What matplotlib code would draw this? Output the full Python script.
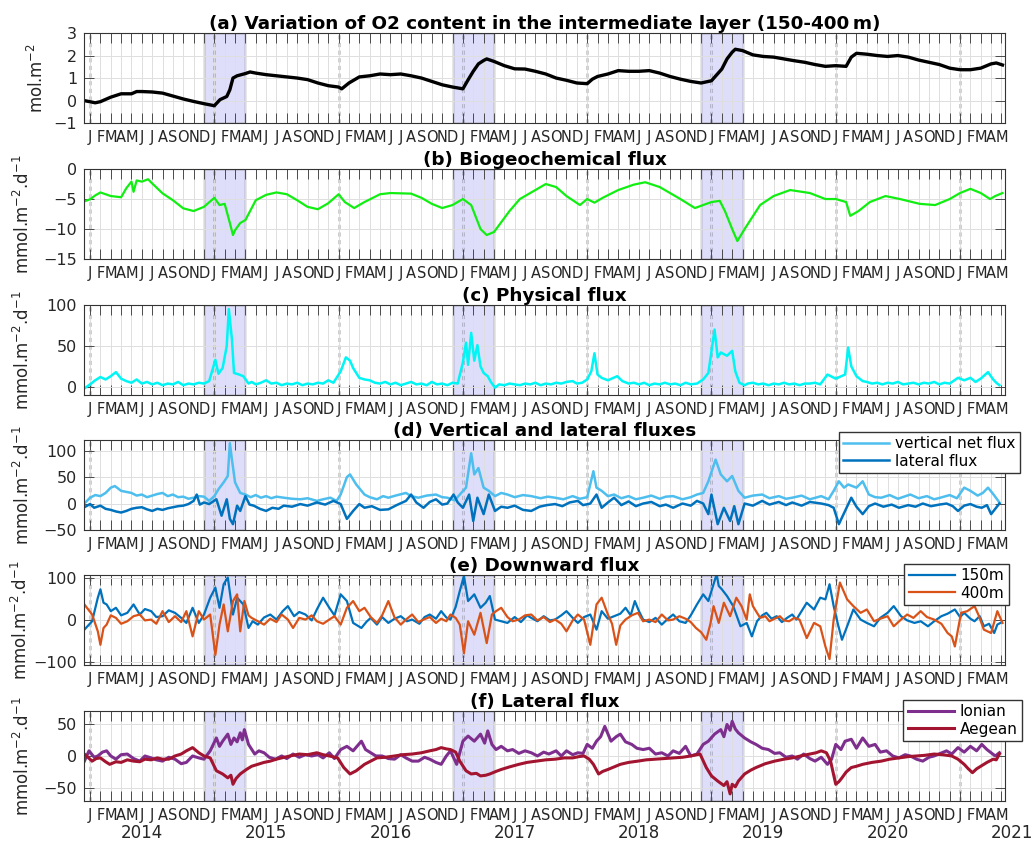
import matplotlib
matplotlib.use("Agg")
import matplotlib.pyplot as plt

plt.rcParams['font.family'] = ['DejaVu Sans']

# time axis: month index, 0 = 1 Jan 2014 ... 88 = 1 May 2021
month_letters = ['J', 'F', 'M', 'A', 'M', 'J', 'J', 'A', 'S', 'O', 'N', 'D']
n_months = 89
years = [2014, 2015, 2016, 2017, 2018, 2019, 2020, 2021]
winters = [(11, 15), (35, 39), (59, 63)]   # 1 Dec -> 1 Apr

# (a) O2 content, mol.m-2
o2_content = [(-0.58, 0.0), (0.5, -0.1), (1, -0.05), (2, 0.15), (3, 0.3), (4, 0.3), (4.5, 0.4), (5, 0.4),
              (6, 0.38), (7, 0.33), (8, 0.2), (9, 0.07), (10, -0.04), (11, -0.14), (12, -0.23),
              (12.55, 0.04), (13.2, 0.18), (13.5, 0.48), (13.8, 1.0), (14.2, 1.1), (15, 1.2), (15.45, 1.27),
              (16, 1.22), (17, 1.15), (18, 1.1), (19, 1.05), (20, 1.0), (21, 0.93), (22, 0.78), (23, 0.66),
              (24, 0.6), (24.3, 0.52), (25, 0.78), (26, 1.05), (27, 1.1), (28, 1.18), (29, 1.15), (30, 1.18),
              (31, 1.1), (32, 1.0), (33, 0.85), (34, 0.7), (35, 0.6), (36, 0.52), (36.5, 0.92), (37, 1.3),
              (37.5, 1.63), (38, 1.78), (38.3, 1.85), (39, 1.74), (40, 1.55), (41, 1.41), (42, 1.4), (43, 1.3),
              (44, 1.18), (45, 1.0), (46, 0.9), (47, 0.78), (48, 0.75), (48.5, 0.95), (49, 1.07), (50, 1.18),
              (51, 1.33), (52, 1.3), (53, 1.3), (54, 1.33), (55, 1.22), (56, 1.07), (57, 0.95), (58, 0.85),
              (59, 0.78), (60, 0.88), (61, 1.4), (61.5, 1.85), (62, 2.15), (62.3, 2.28), (63, 2.22), (64, 2.03),
              (65, 1.96), (66, 1.93), (67, 1.85), (68, 1.77), (69, 1.7), (70, 1.6), (71, 1.52), (72, 1.55),
              (73, 1.52), (73.5, 1.93), (74, 2.1), (75, 2.06), (76, 2.0), (77, 1.96), (78, 2.0), (79, 1.93),
              (80, 1.8), (81, 1.7), (82, 1.6), (83, 1.44), (84, 1.37), (85, 1.37), (86, 1.44), (87, 1.63),
              (87.5, 1.67), (88.1, 1.58)]

# (b) biogeochemical flux, mmol.m-2.d-1
bio_flux = [(-0.58, -5.4), (0, -5.05), (0.5, -4.4), (1, -3.9), (2, -4.5), (3, -4.7), (3.5, -3.2), (4, -2.1),
            (4.2, -3.8), (4.5, -1.9), (5, -2.1), (5.6, -1.7), (6, -2.4), (7, -4.05), (8, -5.2), (9, -6.55),
            (10, -7.0), (11, -6.3), (12, -4.8), (12.5, -6.0), (13, -5.8), (13.5, -9.0), (13.8, -11.0),
            (14, -10.2), (14.5, -9.0), (15, -8.5), (16, -5.2), (17, -4.3), (18, -3.9), (19, -4.2), (20, -5.2),
            (21, -6.3), (22, -6.7), (23, -5.7), (24, -4.2), (24.6, -5.5), (25.5, -6.5), (26.5, -5.5),
            (28, -4.2), (29, -4.0), (31, -4.1), (32, -4.8), (33, -5.8), (34, -6.5), (35, -6.0), (36, -5.0),
            (36.8, -6.0), (37.7, -10.0), (38.3, -11.0), (39, -10.5), (40.5, -7.0), (41.5, -5.0), (42.5, -4.0),
            (44, -2.5), (45, -3.0), (46, -4.5), (47.3, -6.0), (48, -5.0), (48.7, -5.6), (49.5, -4.8),
            (51, -3.5), (52.5, -2.6), (53.6, -2.2), (55, -3.0), (57, -5.0), (58.4, -6.5), (60, -5.5),
            (60.8, -5.3), (61.3, -7.0), (62, -10.0), (62.5, -12.0), (63.2, -10.0), (64.7, -6.0), (66, -4.5),
            (67.6, -3.5), (69.5, -4.0), (71, -5.0), (72, -5.0), (73, -5.5), (73.4, -7.8), (74.2, -7.0),
            (75.3, -5.5), (76.8, -4.5), (78.2, -5.0), (80.1, -5.8), (81.6, -6.0), (83, -5.0), (84, -4.0),
            (85, -3.3), (86, -4.0), (86.9, -5.0), (87.4, -4.5), (88.1, -4.0)]

# (c) physical flux
phys_flux = [(-0.55, -2), (0, 3), (0.5, 8), (1, 12), (1.5, 9), (2, 13), (2.5, 18), (3, 10), (3.5, 7), (4, 5),
             (4.5, 9), (5, 4), (5.5, 6), (6, 3), (6.5, 5), (7, 2), (7.5, 4), (8, 3), (8.5, 6), (9, 2), (9.5, 4),
             (10, 3), (10.5, 5), (11, 4), (11.5, 7), (12.1, 33), (12.4, 16), (12.8, 23), (13.2, 50), (13.4, 95),
             (13.7, 58), (13.9, 17), (14.4, 15), (14.8, 13), (15.3, 4), (15.6, 6), (16, 3), (16.5, 5), (17, 8),
             (17.5, 4), (18, 5), (18.5, 2), (19, 4), (19.5, 3), (20, 5), (20.5, 2), (21, 4), (21.5, 3), (22, 5),
             (22.5, 4), (23, 8), (23.5, 5), (24.2, 19), (24.7, 36), (25.1, 32), (25.4, 23), (26, 11), (26.5, 9),
             (27, 8), (27.5, 5), (28, 4), (28.5, 6), (29, 3), (29.5, 5), (30, 2), (30.5, 4), (31, 6), (31.5, 3),
             (32, 4), (32.5, 2), (33, 6), (33.5, 3), (34, 4), (34.5, 2), (35, 5), (35.5, 4), (36, 30), (36.3, 54),
             (36.5, 27), (36.8, 66), (37.1, 32), (37.4, 51), (37.7, 25), (38, 17), (38.4, 13), (38.7, 6),
             (39.1, -1), (39.5, 3), (40, 2), (40.5, 4), (41, 3), (41.5, 2), (42, 4), (42.5, 3), (43, 5), (43.5, 2),
             (44, 4), (44.5, 3), (45, 5), (45.5, 4), (46, 6), (46.6, 7), (47, 4), (47.5, 5), (48, 9), (48.4, 19),
             (48.7, 41), (49, 15), (49.4, 11), (50, 8), (50.9, 13), (51.4, 7), (52, 4), (52.5, 5), (53, 3),
             (53.5, 5), (54, 2), (54.5, 4), (55, 3), (55.5, 5), (56, 3), (56.5, 4), (57, 2), (57.5, 5), (58, 3),
             (58.6, 4), (59.2, 9), (59.7, 17), (60.3, 70), (60.6, 36), (60.9, 42), (61.5, 38), (62, 44),
             (62.3, 19), (62.7, 5), (63.2, 2), (63.5, 4), (64, 5), (64.5, 3), (65, 4), (65.5, 2), (66, 4),
             (66.5, 3), (67, 5), (67.5, 3), (68, 4), (68.5, 2), (69, 4), (69.5, 4), (70, 5), (70.5, 3), (71.2, 15),
             (72, 10), (72.9, 15), (73.2, 48), (73.5, 25), (74, 13), (74.6, 7), (75, 6), (75.5, 4), (76, 5),
             (76.5, 3), (77, 5), (77.5, 4), (78, 6), (78.5, 3), (79, 4), (79.5, 5), (80, 3), (80.5, 5), (81, 4),
             (81.5, 6), (82, 3), (82.5, 5), (83, 4), (83.8, 11), (84.4, 8), (85, 11), (85.5, 6), (86, 10),
             (86.7, 18), (87.2, 9), (87.5, 5), (87.8, 2)]

# (d) vertical net flux and lateral flux
vertical_net = [(-0.55, 0), (0, 11), (0.5, 16), (1, 14), (1.5, 20), (2, 30), (2.4, 33), (3, 24), (3.5, 22),
                (4, 20), (4.5, 15), (5, 17), (5.5, 12), (6, 15), (6.5, 18), (7, 20), (7.5, 14), (8, 17),
                (8.5, 12), (9, 13), (9.5, 9), (10, 11), (10.5, 14), (11, 13), (11.5, 5), (12, 14), (12.4, 27),
                (12.9, 40), (13.3, 52), (13.5, 114), (13.7, 83), (14, 40), (14.5, 20), (15, 17), (15.5, 12),
                (16, 16), (16.5, 11), (17, 14), (17.5, 10), (18, 13), (18.7, 11), (19.5, 9), (20.3, 8), (21, 10),
                (21.9, 5), (22.5, 8), (23.2, 11), (23.8, 5), (24.2, 17), (24.8, 50), (25.1, 55), (25.7, 36),
                (26.5, 17), (27, 12), (27.7, 8), (28.3, 14), (28.8, 11), (29.5, 15), (30.5, 20), (31, 14),
                (31.7, 11), (32.5, 15), (33.4, 17), (34, 12), (34.5, 11), (35.2, 6), (35.7, 17), (36.3, 30),
                (36.8, 95), (37.1, 55), (37.5, 67), (38, 30), (38.5, 24), (39.1, 14), (39.7, 20), (40.3, 17),
                (41, 12), (41.8, 16), (42.6, 14), (43.5, 10), (44.2, 13), (44.9, 11), (45.7, 8), (46.6, 14),
                (47.3, 9), (48, 12), (48.6, 61), (48.9, 30), (49.4, 24), (50, 14), (50.6, 17), (51.3, 10),
                (52, 14), (52.7, 8), (53.4, 11), (54.2, 15), (55, 9), (55.6, 13), (56.3, 14), (57.2, 8), (58, 12),
                (58.6, 17), (59.2, 20), (59.7, 42), (60.4, 83), (60.9, 55), (61.5, 42), (62, 52), (62.6, 24),
                (63.2, 11), (64, 15), (64.9, 17), (65.6, 10), (66.5, 14), (67.2, 9), (67.8, 11), (68.7, 15),
                (69.5, 8), (70.6, 14), (71.3, 8), (71.8, 24), (72.3, 42), (72.8, 30), (73.2, 36), (74, 30),
                (74.6, 42), (75.2, 17), (75.8, 12), (76.4, 11), (77.2, 16), (78, 9), (79.2, 17), (80, 10),
                (80.8, 14), (81.5, 8), (82.1, 11), (83, 16), (83.7, 10), (84.4, 30), (85, 24), (85.7, 15),
                (86.2, 20), (86.7, 30), (87.2, 18), (87.5, 10), (87.8, 2)]

lateral_net = [(-0.55, -7), (0, -1), (0.4, -8), (1, -4), (1.5, -10), (2, -12), (2.5, -15), (3, -17), (3.5, -14),
               (4, -10), (4.5, -8), (5, -7), (5.5, -11), (6, -14), (6.5, -10), (7, -12), (7.5, -9), (8, -7),
               (8.5, -5), (9, -4), (9.5, -1), (10, 5), (10.3, 17), (10.6, -2), (11, 2), (11.5, -1), (12.2, 8),
               (12.7, -23), (13.2, 8), (13.5, -29), (13.8, -39), (14.2, -4), (14.5, -14), (15, 14), (15.4, -2),
               (15.8, -4), (16.4, -10), (17, -14), (17.6, -8), (18.2, -10), (18.7, -4), (19.5, -6), (20.3, -1),
               (21, -4), (21.9, 2), (22.7, -2), (23.5, 5), (24.2, -1), (24.8, -29), (25.4, -14), (26, -1),
               (26.5, -8), (27.2, -5), (28, -12), (28.8, -11), (29.6, -3), (30.5, 5), (31, 17), (31.5, 2),
               (32.2, -8), (32.8, 3), (33.4, 8), (34, -2), (34.5, 0), (35.1, 17), (35.5, 2), (36, -8), (36.6, 17),
               (37, -33), (37.4, 11), (38, -20), (38.5, 17), (39.1, -14), (39.7, -6), (40.3, -8), (41, -4),
               (41.8, -12), (42.6, -14), (43.4, -6), (44.1, -3), (44.9, -1), (45.6, -5), (46.3, 2), (47.1, 5),
               (47.6, -3), (48.3, 0), (48.9, 17), (49.4, -8), (50, 2), (50.6, 11), (51.3, -3), (52, 4),
               (52.7, -5), (53.4, 0), (54.2, 3), (55, -5), (55.6, -2), (56.3, -8), (57.2, 0), (58, -4), (58.6, 5),
               (59.2, 0), (59.7, -20), (60, 17), (60.6, -39), (61.2, -8), (61.8, -33), (62.2, -5), (62.6, -39),
               (63.2, 0), (64, -4), (64.9, 5), (65.6, -2), (66.5, 3), (67.2, -3), (67.8, 2), (68.7, -4),
               (69.5, 3), (70.6, 0), (71.3, -3), (71.8, -8), (72.3, -39), (72.9, -14), (73.5, 11), (74, -6),
               (74.6, -20), (75.2, -5), (75.8, 0), (76.6, -6), (77.4, -2), (78.1, -8), (79, -3), (79.7, -6),
               (80.4, 0), (81.2, -5), (82, -2), (82.7, 0), (83.3, -5), (83.8, -14), (84.4, -4), (85, -1),
               (85.6, -6), (86.1, -8), (86.6, -3), (87, -20), (87.4, -10), (87.8, 0)]

# (e) downward flux at 150 m and 400 m
down_150 = [(-0.55, -24), (0.2, -4), (0.75, 52), (1, 72), (1.3, 40), (1.6, 36), (2, 20), (2.5, 28), (3, 10),
            (3.6, 16), (4.2, 36), (4.8, 12), (5.3, 25), (5.9, 20), (6.4, 6), (7, 8), (7.6, 22), (8.2, 16),
            (8.8, 4), (9.3, -8), (9.9, 28), (10.5, -8), (11, 12), (11.6, 52), (12.1, 76), (12.5, 28), (12.9, 84),
            (13.3, 100), (13.8, 12), (14.2, 52), (14.8, 36), (15.3, -20), (15.7, -4), (16.2, -12), (16.8, 5),
            (17.4, 12), (18, 0), (18.6, 20), (19.1, 32), (19.7, 8), (20.2, 18), (20.8, 12), (21.4, -2),
            (21.9, 24), (22.5, 52), (23.1, 28), (23.6, 10), (24.2, 60), (24.8, 44), (25.4, -8), (26.2, -20),
            (26.7, -5), (27.1, 4), (27.7, -12), (28.2, 6), (28.8, -8), (29.4, 2), (30, 8), (30.6, -4), (31.1, 0),
            (31.8, -10), (32.3, 6), (32.8, 12), (33.4, 2), (33.9, 20), (34.4, 5), (34.8, 0), (35.3, 30),
            (35.7, 68), (36.1, 104), (36.5, 44), (37.1, 60), (37.7, 28), (38.2, 40), (38.6, 56), (39.1, 0),
            (39.7, -4), (40.3, -8), (41, 6), (41.6, -6), (42.2, 10), (42.6, 4), (43.2, -4), (43.8, 8),
            (44.4, -2), (44.9, 0), (45.5, 10), (46, 20), (46.6, 4), (47.1, -8), (47.7, 6), (48.3, 12),
            (48.9, -24), (49.4, 20), (50, 2), (50.6, 8), (51.2, 14), (51.7, 28), (52.2, 10), (52.6, 44), (53, 20),
            (53.4, 0), (54, -6), (54.6, 4), (55.2, -12), (55.8, 2), (56.3, 12), (56.9, -4), (57.5, -8), (58, 10),
            (58.6, 36), (59.2, 60), (59.7, 44), (60.2, 84), (60.5, 108), (60.7, 80), (61, 72), (61.5, 56),
            (62.1, 32), (62.8, -16), (63.4, -8), (63.9, -40), (64.4, -4), (64.9, 10), (65.3, 16), (65.8, 2),
            (66.3, 8), (66.8, -6), (67.3, 4), (67.8, 12), (68.2, 0), (68.7, 20), (69.2, 40), (69.9, 24),
            (70.5, 52), (71, 48), (71.4, 84), (71.8, 32), (72.2, -10), (72.6, -48), (73.1, -16), (73.7, 24),
            (74.4, 0), (75, -8), (75.7, -16), (76.3, 4), (77, 16), (77.6, 32), (78.3, 8), (78.9, -2), (79.6, -8),
            (80.2, -4), (80.9, -16), (81.5, -4), (82.2, 8), (82.8, 14), (83.5, 24), (84, 6), (84.4, 16), (85, 2),
            (85.4, -4), (85.9, 8), (86.3, -16), (86.8, -10), (87.3, -32), (87.6, -12), (87.9, -8)]

down_400 = [(-0.55, 36), (0.2, 12), (0.75, -28), (1, -60), (1.3, -20), (1.6, -12), (2, 10), (2.5, 4), (3, -10),
            (3.6, -4), (4.2, 8), (4.8, 12), (5.3, -2), (5.9, 0), (6.4, -10), (7, 20), (7.6, -6), (8.2, 8),
            (8.8, -6), (9.3, 20), (9.9, -40), (10.5, 20), (11, 0), (11.6, 12), (12.1, -84), (12.5, -12),
            (12.9, 36), (13.3, -28), (13.8, 44), (14.2, 60), (14.5, -28), (14.9, 44), (15.3, 10), (15.6, 4),
            (16.2, -4), (16.8, -12), (17.4, 2), (18, -6), (18.5, 12), (19.1, 0), (19.6, -20), (20.2, 4),
            (20.8, 0), (21.4, 10), (21.9, -4), (22.5, -10), (23.1, 0), (23.6, 8), (24.2, -12), (24.8, 28),
            (25.4, 44), (26, 20), (26.5, 28), (27.1, 6), (27.7, -8), (28.2, 10), (28.8, 44), (29.4, 5),
            (30, -12), (30.6, 2), (31.1, 12), (31.7, -6), (32.2, 0), (32.8, 6), (33.4, -8), (33.9, 2),
            (34.4, -4), (34.8, 12), (35.3, 4), (35.7, -12), (36.1, -80), (36.5, -4), (37.1, -36), (37.7, 16),
            (38.3, -56), (38.8, 12), (39.2, 20), (39.7, 28), (40.3, 6), (40.8, -4), (41.4, 0), (42, 10),
            (42.6, 12), (43.2, -2), (43.8, 6), (44.4, -6), (44.9, 0), (45.5, -10), (46, -28), (46.6, -2),
            (47.1, 12), (47.7, 0), (48.3, -60), (48.9, 36), (49.4, 52), (50, 12), (50.4, -10), (50.8, -60),
            (51.2, -14), (51.7, 0), (52.3, 10), (52.9, 16), (53.4, -4), (54, 0), (54.6, -6), (55.2, 12),
            (55.8, -2), (56.3, 0), (56.9, 8), (57.5, 2), (58, -6), (58.5, -20), (59, -30), (59.5, -48),
            (59.9, -10), (60.2, 32), (60.7, -8), (61.2, 40), (61.8, 8), (62.4, 52), (62.9, 32), (63.4, 0),
            (63.7, 60), (64, 32), (64.7, 4), (65.2, 8), (65.6, -4), (66.1, 2), (66.6, 8), (67, -2), (67.5, -4),
            (68, 4), (68.5, 0), (69.2, -44), (69.9, -8), (70.5, -16), (71, -64), (71.4, -94), (71.8, 0),
            (72.4, 88), (73.1, 48), (73.7, 32), (74.4, 16), (75, 24), (75.7, -4), (76.3, 2), (77, 8),
            (77.6, -16), (78.3, 0), (78.9, 12), (79.5, 4), (80.2, 20), (80.8, 6), (81.5, 0), (82.2, -10),
            (82.8, -32), (83.2, -40), (83.5, -64), (84.1, 16), (84.7, 20), (85.4, 32), (85.8, 10), (86.3, -24),
            (87, -32), (87.6, 20), (88.1, -8)]

# (f) lateral flux, Ionian and Aegean sides
ionian = [(-0.55, -8), (-0.1, 8), (0.4, -2), (0.75, 0), (1.2, 6), (1.6, 8), (2, 0), (2.5, -5), (3, 2), (3.6, 3),
          (4.2, -4), (4.8, -8), (5.3, 0), (5.9, -3), (6.4, -6), (7, -8), (7.6, -2), (8.2, -5), (8.8, -12),
          (9.3, -10), (9.9, 0), (10.5, -3), (11, -5), (11.6, 8), (12.2, 28), (12.5, 15), (12.8, 23), (13.3, 34),
          (13.6, 18), (13.9, 28), (14.2, 22), (14.5, 36), (14.7, 25), (14.9, 41), (15.3, 18), (15.9, 3),
          (16.3, 8), (16.8, 5), (17.3, -2), (17.9, -5), (18.5, 0), (19, -4), (19.6, 3), (20.2, -2), (20.8, 2),
          (21.4, 0), (22, 2), (22.5, -3), (23.1, 5), (23.6, -4), (24.2, 10), (24.8, 15), (25.4, 8), (26.2, 23),
          (26.6, 10), (27.1, 5), (27.6, 0), (28.2, 0), (28.8, -4), (29.4, -5), (30, 2), (30.5, -3), (31.1, -8),
          (31.7, -8), (32.3, -2), (32.8, -5), (33.4, -10), (33.9, -13), (34.4, 0), (34.8, 8), (35.4, -13),
          (36, 23), (36.5, 31), (37.1, 23), (37.7, 34), (38.1, 20), (38.4, 39), (38.8, 18), (39.2, 10),
          (39.7, 15), (40.3, 8), (40.8, 10), (41.4, 4), (42, 8), (42.6, 5), (43.2, 0), (43.8, 6), (44.3, 3),
          (45, 8), (45.5, 0), (46, 8), (46.6, 2), (47.1, 5), (47.6, 4), (48, 18), (48.5, 12), (48.9, 23),
          (49.3, 30), (49.7, 46), (50.3, 23), (50.8, 30), (51.2, 34), (51.7, 22), (52.3, 18), (52.8, 12),
          (53.4, 10), (54, 12), (54.6, 3), (55.2, 5), (55.8, 0), (56.3, 8), (56.9, 4), (57.5, 15), (58, 0),
          (58.6, 3), (59.2, 18), (59.7, 23), (60.3, 34), (60.9, 41), (61.2, 30), (61.5, 49), (61.8, 40),
          (62, 54), (62.3, 42), (62.6, 36), (63.2, 28), (63.8, 22), (64.3, 18), (64.9, 12), (65.5, 10),
          (66.1, 4), (66.6, 5), (67.2, -2), (67.8, 0), (68.3, -5), (68.9, 3), (69.5, -4), (70, -8), (70.6, -2),
          (71.2, -13), (71.6, -5), (72, 18), (72.5, 10), (72.9, 23), (73.5, 26), (74, 12), (74.6, 28),
          (75.2, 15), (75.8, 18), (76.3, 6), (76.9, 8), (77.5, 0), (78.1, -3), (78.7, 2), (79.2, 0), (79.8, -5),
          (80.4, -8), (81, -2), (81.5, 0), (82.1, 4), (82.7, 8), (83.2, 3), (83.8, 13), (84.4, 6), (85, 15),
          (85.6, 8), (86.1, 18), (86.6, 10), (87, 5), (87.4, 0), (87.8, 5)]

aegean = [(-0.55, 3), (0.2, -8), (0.6, -4), (1, -3), (1.5, -9), (1.9, -13), (2.5, -9), (3, -10), (3.6, -6),
          (4.2, -8), (4.8, -9), (5.3, -5), (5.9, -6), (6.5, -3), (7, -5), (7.6, -5), (8.2, 0), (8.8, 3), (9.3, 8),
          (9.9, 13), (10.5, 5), (11, 0), (11.6, -3), (12.2, -23), (12.8, -28), (13.3, -34), (13.6, -30),
          (13.8, -44), (14.1, -35), (14.5, -28), (15.1, -21), (15.6, -16), (16.2, -13), (16.8, -10), (17.4, -8),
          (18, -5), (18.5, -3), (19.3, 0), (20.2, 3), (21, 2), (21.9, 5), (22.5, 2), (23.1, 0), (23.9, -3),
          (24.5, -18), (25.1, -28), (25.7, -23), (26.1, -18), (26.5, -13), (27.1, -8), (27.7, -3), (28.5, -2),
          (29.4, 0), (30.2, 2), (31.1, 3), (32, 5), (32.8, 8), (33.4, 10), (33.9, 13), (34.4, 11), (34.8, 10),
          (35.3, 6), (35.7, -8), (36.3, -23), (36.8, -28), (37.3, -27), (37.7, -31), (38.2, -30), (38.6, -28),
          (39.2, -24), (39.7, -21), (40.5, -17), (41.4, -13), (42.2, -10), (43.1, -8), (44, -6), (44.9, -5),
          (45.8, -3), (46.6, -3), (47.2, -1), (47.7, 0), (48.2, -5), (48.6, -13), (49.1, -28), (49.5, -24),
          (50, -21), (50.6, -17), (51.2, -13), (52, -10), (52.9, -8), (53.7, -6), (54.6, -5), (55.4, -4),
          (56.3, -3), (57.2, -2), (58, 0), (58.9, 3), (59.5, -18), (60, -31), (60.6, -39), (61.2, -46),
          (61.5, -40), (61.8, -59), (62, -44), (62.3, -48), (62.6, -39), (63.2, -28), (63.8, -22), (64.3, -18),
          (65.2, -12), (66.1, -8), (67, -5), (67.8, -3), (68.6, 0), (69.5, 3), (70.1, 5), (70.6, 8), (71.1, 5),
          (71.5, -8), (72, -44), (72.3, -40), (72.6, -34), (73, -25), (73.5, -18), (74, -16), (74.6, -13),
          (75.5, -10), (76.4, -8), (77.2, -5), (78.1, -3), (79, -1), (79.8, 0), (80.6, 1), (81.5, 3), (82.3, 2),
          (83.2, 0), (83.8, -5), (84.4, -13), (84.8, -20), (85.2, -26), (85.6, -20), (86.1, -15), (86.6, -10),
          (87.2, -5), (87.5, -6), (87.8, 3)]

flux_label = 'mmol.m$^{-2}$.d$^{-1}$'


def unzip(pairs):
    return [p[0] for p in pairs], [p[1] for p in pairs]


def style_axis(ax, ylim, yticks, ylabel, title, label_x=-0.055):
    ax.set_xlim(-0.58, 88.35)
    ax.set_ylim(*ylim)
    ax.set_yticks(yticks)
    ax.set_xticks(range(n_months))
    ax.set_xticklabels([month_letters[i % 12] for i in range(n_months)], fontsize=10.5)
    ax.tick_params(axis='y', labelsize=11.5)
    ax.tick_params(direction='in', length=7, width=0.6, top=True, right=True,
                   color='0.2', labelcolor='0.15', pad=5)
    ax.grid(True, color='0.87', lw=0.7)
    for s in ax.spines.values():
        s.set_color('0.2')
        s.set_linewidth(0.8)
    for a, b in winters:
        ax.axvspan(a, b, facecolor='#dedefa', edgecolor='0.25', lw=0.9, zorder=0.4)
    for m in range(0, n_months, 12):
        ax.axvline(m, color='0.05', ls=(0, (3, 2.5)), lw=1.0, zorder=1.5)
    ax.set_ylabel(ylabel, fontsize=12, color='0.15')
    ax.yaxis.set_label_coords(label_x, 0.5)
    ax.set_title(title, fontsize=13.2, fontweight='bold', pad=3)


def add_legend(ax, anchor):
    ax.legend(loc='upper right', bbox_to_anchor=anchor, fontsize=11, fancybox=False,
              edgecolor='0.2', framealpha=1, handlelength=3, borderpad=0.3,
              labelspacing=0.15, handletextpad=0.4, borderaxespad=0)


fig = plt.figure(figsize=(10.35, 8.41), dpi=100)
left, width, height = 0.0812, 0.8899, 0.107
bottoms = [0.8537, 0.692, 0.5303, 0.3698, 0.2093, 0.0476]
axs = [fig.add_axes([left, b, width, height]) for b in bottoms]

# (a)
t, v = unzip(o2_content)
axs[0].plot(t, v, color='k', lw=2.4, zorder=2)
style_axis(axs[0], (-1, 3), [-1, 0, 1, 2, 3], 'mol.m$^{-2}$',
           '(a) Variation of O2 content in the intermediate layer (150-400\u2009m)', label_x=-0.04)

# (b)
t, v = unzip(bio_flux)
axs[1].plot(t, v, color='#11ee11', lw=1.6, zorder=2)
style_axis(axs[1], (-15, 0), [-15, -10, -5, 0], flux_label, '(b) Biogeochemical flux')

# (c)
t, v = unzip(phys_flux)
axs[2].plot(t, v, color='#00f5f5', lw=1.8, zorder=2)
style_axis(axs[2], (-10, 100), [0, 50, 100], flux_label, '(c) Physical flux')

# (d)
t, v = unzip(vertical_net)
axs[3].plot(t, v, color='#4dbeee', lw=1.8, zorder=2, label='vertical net flux')
t, v = unzip(lateral_net)
axs[3].plot(t, v, color='#0072bd', lw=1.8, zorder=2.1, label='lateral flux')
style_axis(axs[3], (-50, 120), [-50, 0, 50, 100], flux_label, '(d) Vertical and lateral fluxes')
add_legend(axs[3], (1.0163, 1.09))

# (e)
t, v = unzip(down_150)
axs[4].plot(t, v, color='#0072bd', lw=1.6, zorder=2, label='150m')
t, v = unzip(down_400)
axs[4].plot(t, v, color='#d95319', lw=1.6, zorder=2.1, label='400m')
style_axis(axs[4], (-108, 106), [-100, 0, 100], flux_label, '(e) Downward flux', label_x=-0.058)
add_legend(axs[4], (1.0043, 1.124))

# (f)
t, v = unzip(ionian)
axs[5].plot(t, v, color='#7e2f8e', lw=2.2, zorder=2, label='Ionian')
t, v = unzip(aegean)
axs[5].plot(t, v, color='#a2142f', lw=2.2, zorder=2.1, label='Aegean')
style_axis(axs[5], (-70, 70), [-50, 0, 50], flux_label, '(f) Lateral flux')
add_legend(axs[5], (1.0185, 1.124))

for k, yr in enumerate(years):
    axs[5].text(12 * k + 5, -0.36, str(yr), transform=axs[5].get_xaxis_transform(),
                ha='center', va='center', fontsize=12, color='0.15')

fig.savefig('out.png', dpi=100)
